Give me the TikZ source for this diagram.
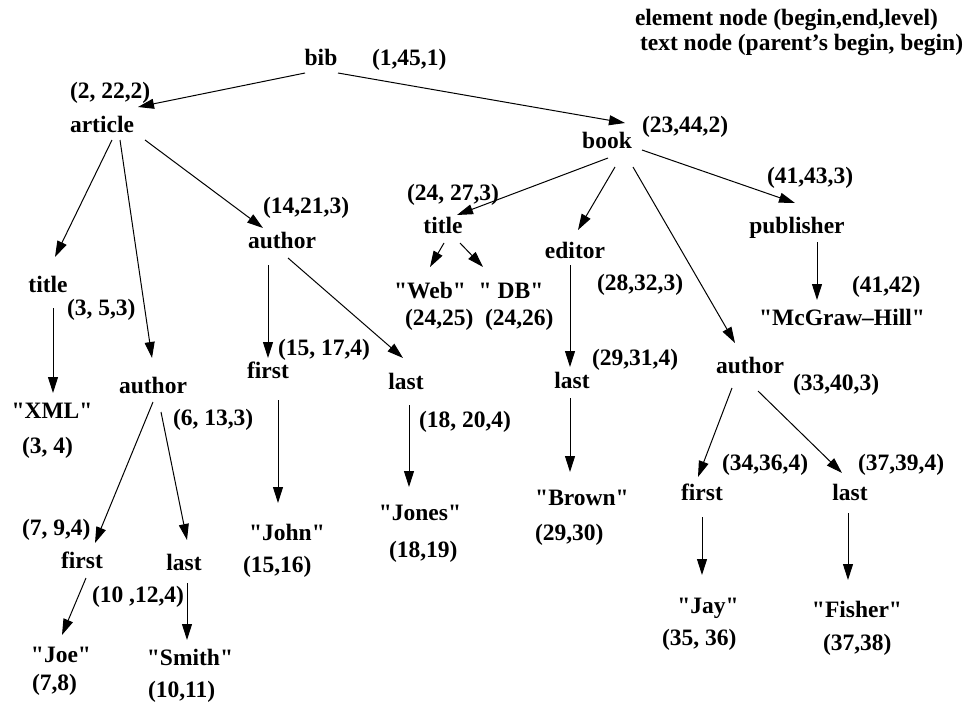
\documentclass[tikz,border=0pt]{standalone}
\usepackage{fontspec}
\setmainfont{Liberation Serif}[Ligatures=TeXOff]
\usetikzlibrary{arrows.meta}
\begin{document}
\begin{tikzpicture}[x=1pt,y=-1pt,
  every node/.style={inner sep=0pt,outer sep=0pt,
    font=\fontsize{23.5}{28}\selectfont\bfseries},
  el/.style={anchor=base},
  tx/.style={anchor=base},
  lbl/.style={anchor=base west},
  arr/.style={line width=1pt,-{Triangle[length=16pt,width=10pt]}}]
\useasboundingbox (0,0) rectangle (967,704);

% legend
\node[lbl] (leg1) at (635,25) {element node (begin,end,level)};
\node[lbl] (leg2) at (640,50) {text node (parent’s begin, begin)};

% element nodes
\node[el] (bib)     at (321,65)  {bib};
\node[el] (article) at (102,132) {article};
\node[el] (book)    at (607,148) {book};
\node[el] (title1)  at (48,292)  {title};
\node[el] (auth1)   at (153,393) {author};
\node[el] (auth2)   at (282,248) {author};
\node[el] (first1)  at (82,568)  {first};
\node[el] (last1)   at (184,570) {last};
\node[el] (first2)  at (268,378) {first};
\node[el] (last2)   at (406,389) {last};
\node[el] (title2)  at (443,233) {title};
\node[el] (editor)  at (575,258) {editor};
\node[el] (last3)   at (572,388) {last};
\node[el] (auth3)   at (750,373) {author};
\node[el] (first3)  at (702,500) {first};
\node[el] (last4)   at (850,500) {last};
\node[el] (publ)    at (797,233) {publisher};

% text nodes
\node[tx] (xml)    at (52,418)  {"XML"};
\node[tx] (joe)    at (61,662)  {"Joe"};
\node[tx] (smith)  at (190,665) {"Smith"};
\node[tx] (john)   at (287,540) {"John"};
\node[tx] (jones)  at (420,520) {"Jones"};
\node[tx] (web)    at (430,298) {"Web"};
\node[tx] (db)     at (511,298) {" DB"};
\node[tx] (brown)  at (582,505) {"Brown"};
\node[tx] (jay)    at (708,613) {"Jay"};
\node[tx] (fisher) at (857,617) {"Fisher"};
\node[tx] (mcgraw) at (842,325) {"McGraw–Hill"};

% labels
\node[lbl] (l1)  at (372,65)  {(1,45,1)};
\node[lbl] (l2)  at (70,98)   {(2, 22,2)};
\node[lbl] (l3)  at (642,132) {(23,44,2)};
\node[lbl] (l4)  at (263,213) {(14,21,3)};
\node[lbl] (l5)  at (407,200) {(24, 27,3)};
\node[lbl] (l6)  at (767,183) {(41,43,3)};
\node[lbl] (l7)  at (67,315)  {(3, 5,3)};
\node[lbl] (l8)  at (173,425) {(6, 13,3)};
\node[lbl] (l9)  at (22,453)  {(3, 4)};
\node[lbl] (l10) at (278,355) {(15, 17,4)};
\node[lbl] (l11) at (419,427) {(18, 20,4)};
\node[lbl] (l12) at (405,325) {(24,25)};
\node[lbl] (l13) at (485,325) {(24,26)};
\node[lbl] (l14) at (597,290) {(28,32,3)};
\node[lbl] (l15) at (852,292) {(41,42)};
\node[lbl] (l16) at (592,365) {(29,31,4)};
\node[lbl] (l17) at (793,390) {(33,40,3)};
\node[lbl] (l18) at (722,470) {(34,36,4)};
\node[lbl] (l19) at (858,470) {(37,39,4)};
\node[lbl] (l20) at (22,535)  {(7, 9,4)};
\node[lbl] (l21) at (92,602)  {(10 ,12,4)};
\node[lbl] (l22) at (32,690)  {(7,8)};
\node[lbl] (l23) at (148,697) {(10,11)};
\node[lbl] (l24) at (243,572) {(15,16)};
\node[lbl] (l25) at (389,557) {(18,19)};
\node[lbl] (l26) at (535,540) {(29,30)};
\node[lbl] (l27) at (662,645) {(35, 36)};
\node[lbl] (l28) at (823,650) {(37,38)};

% edges
\draw[arr] ([shift={(-16,8)}]bib.base) -- ([shift={(36,-25)}]article.base);
\draw[arr] ([shift={(17,8)}]bib.base) -- ([shift={(18,-25)}]book.base);
\draw[arr] ([shift={(10,8)}]article.base) -- ([shift={(7,-35)}]title1.base);
\draw[arr] ([shift={(18,8)}]article.base) -- ([shift={(-1,-35)}]auth1.base);
\draw[arr] ([shift={(43,8)}]article.base) -- ([shift={(-19,-20)}]auth2.base);
\draw[arr] ([shift={(1,10)}]book.base) -- ([shift={(14,-18)}]title2.base);
\draw[arr] ([shift={(8,19)}]book.base) -- ([shift={(3,-28)}]editor.base);
\draw[arr] ([shift={(26,19)}]book.base) -- ([shift={(-15,-30)}]auth3.base);
\draw[arr] ([shift={(35,2)}]book.base) -- ([shift={(-2,-30)}]publ.base);
\draw[arr] ([shift={(5,16)}]title1.base) -- ([shift={(1,-25)}]xml.base);
\draw[arr] ([shift={(0,9)}]auth1.base) -- ([shift={(13,-25)}]first1.base);
\draw[arr] ([shift={(8,19)}]auth1.base) -- ([shift={(3,-30)}]last1.base);
\draw[arr] ([shift={(-14,17)}]auth2.base) -- ([shift={(0,-20)}]first2.base);
\draw[arr] ([shift={(6,10)}]auth2.base) -- ([shift={(-3,-31)}]last2.base);
\draw[arr] ([shift={(1,10)}]title2.base) -- ([shift={(0,-31)}]web.base);
\draw[arr] ([shift={(17,10)}]title2.base) -- ([shift={(-28,-31)}]db.base);
\draw[arr] ([shift={(-5,7)}]editor.base) -- ([shift={(-2,-21)}]last3.base);
\draw[arr] ([shift={(-2,10)}]last3.base) -- ([shift={(-12,-33)}]brown.base);
\draw[arr] ([shift={(20,9)}]publ.base) -- ([shift={(-25,-25)}]mcgraw.base);
\draw[arr] ([shift={(-18,15)}]auth3.base) -- ([shift={(-4,-23)}]first3.base);
\draw[arr] ([shift={(8,18)}]auth3.base) -- ([shift={(-8,-27)}]last4.base);
\draw[arr] ([shift={(4,10)}]first1.base) -- ([shift={(1,-27)}]joe.base);
\draw[arr] ([shift={(3,13)}]last1.base) -- ([shift={(-3,-25)}]smith.base);
\draw[arr] ([shift={(10,22)}]first2.base) -- ([shift={(-9,-37)}]john.base);
\draw[arr] ([shift={(3,16)}]last2.base) -- ([shift={(-11,-33)}]jones.base);
\draw[arr] ([shift={(0,17)}]first3.base) -- ([shift={(-6,-38)}]jay.base);
\draw[arr] ([shift={(-2,13)}]last4.base) -- ([shift={(-9,-37)}]fisher.base);
\end{tikzpicture}
\end{document}
